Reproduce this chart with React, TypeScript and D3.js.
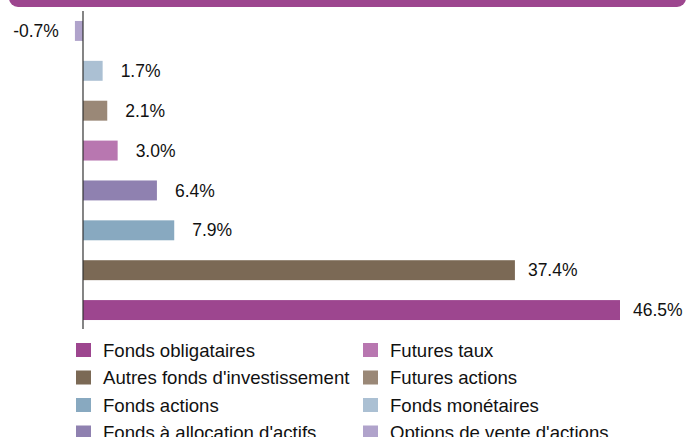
import * as d3 from "d3";

const categories = [
  "Options de vente d'actions",
  "Fonds monétaires",
  "Futures actions",
  "Futures taux",
  "Fonds à allocation d'actifs",
  "Fonds actions",
  "Autres fonds d'investissement",
  "Fonds obligataires",
];
const values = [-0.7, 1.7, 2.1, 3.0, 6.4, 7.9, 37.4, 46.5];
const colors = [
  "#b0a3cb",
  "#abc0d3",
  "#9a8877",
  "#b877b0",
  "#8f81b0",
  "#88a9c0",
  "#7b6955",
  "#9d468f",
];
// legend order: two columns, read row by row
const legendOrder = [
  "Fonds obligataires",
  "Futures taux",
  "Autres fonds d'investissement",
  "Futures actions",
  "Fonds actions",
  "Fonds monétaires",
  "Fonds à allocation d'actifs",
  "Options de vente d'actions",
];

const W = 688;
const H = 437;
const font = "'Liberation Sans', Arial, sans-serif";

export default function App() {
  const x = d3.scaleLinear().domain([0, 46.5]).range([83, 620]);
  const y = d3.scaleBand().domain(categories).range([11, 330]).paddingInner(0.5).paddingOuter(0.25);

  const fmt = (v: number) => `${v.toFixed(1)}%`;

  return (
    <svg
      width={W}
      height={H}
      style={{ position: "fixed", left: 0, top: 0, background: "#fff" }}
      fontFamily={font}
    >
      <rect x={9} y={-12} width={677} height={19} rx={9} fill="#9d468f" />
      {categories.map((c, i) => {
        const v = values[i];
        const x0 = x(Math.min(0, v));
        const x1 = x(Math.max(0, v));
        const cy = (y(c) ?? 0) + y.bandwidth() / 2;
        return (
          <g key={c}>
            <rect x={x0} y={y(c)} width={x1 - x0} height={y.bandwidth()} fill={colors[i]} />
            <text
              x={v < 0 ? x0 - 16 : x1 + (v > 20 ? 13 : 18)}
              y={cy}
              dy="0.35em"
              fontSize={17.5}
              textAnchor={v < 0 ? "end" : "start"}
              fill="#111"
            >
              {fmt(v)}
            </text>
          </g>
        );
      })}
      <line x1={x(0)} x2={x(0)} y1={11} y2={329} stroke="#333" strokeWidth={1.2} />
      {legendOrder.map((c, i) => {
        const col = i % 2;
        const row = Math.floor(i / 2);
        const lx = col === 0 ? 76 : 363;
        const ly = 350 + row * 27.5;
        const color = colors[categories.indexOf(c)];
        return (
          <g key={c}>
            <rect x={lx} y={ly - 7} width={15} height={14} fill={color} />
            <text x={lx + 27} y={ly} dy="0.35em" fontSize={18.6} fill="#111">
              {c}
            </text>
          </g>
        );
      })}
    </svg>
  );
}
